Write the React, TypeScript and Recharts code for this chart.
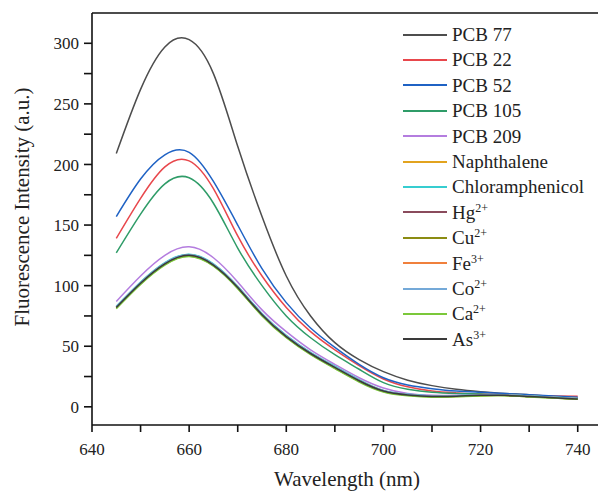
import * as React from "react";
import { LineChart, Line, XAxis, YAxis } from "recharts";

const wavelengths = [645, 650, 655, 660, 665, 670, 675, 680, 685, 690, 695, 700, 705, 710, 715, 720, 725, 730, 735, 740];

const pcb77 = [209, 262, 297, 303, 275, 215, 157, 108, 75, 53, 39, 29, 22, 17.5, 14.5, 12.5, 11, 10, 8.5, 7.5];
const pcb22 = [139, 172, 198, 203, 180, 141, 108, 82, 62, 47, 34, 23, 16.5, 13, 11.5, 10.5, 10, 9.5, 9, 8.8];
const pcb52 = [157, 188, 208, 210, 186, 150, 114, 86, 65, 49, 35, 24, 18, 15, 13, 12, 11, 10, 9, 8];
const pcb105 = [127, 159, 184, 189, 168, 131, 100, 75, 57, 43, 31, 20, 14.5, 12, 11, 10.5, 10, 9, 8, 7];
const pcb209 = [87, 108, 125, 132, 123, 103, 80, 62, 47, 35, 24, 15.5, 11, 9.5, 9.5, 10, 10, 9, 8, 7];
const naphthalene = [82.5, 102.5, 118.5, 125.5, 117.5, 99, 76.5, 58.5, 44.5, 33, 22, 13.3, 10, 8.8, 9, 9.7, 9.7, 8.7, 7.7, 6.7];
const chloramphenicol = [83, 103, 119, 126, 118, 99.5, 77, 59, 45, 33.5, 22.5, 13.6, 10.3, 9, 9.2, 9.9, 9.9, 8.9, 7.9, 6.9];
const hg = [82, 102, 118, 125, 117, 98.5, 76, 58, 44, 32.5, 21.5, 13, 9.8, 8.6, 8.8, 9.5, 9.5, 8.5, 7.5, 6.5];
const cu = [81.5, 101.5, 117.5, 124.5, 116.5, 98, 75.5, 57.5, 43.5, 32, 21, 12.6, 9.5, 8.3, 8.5, 9.2, 9.3, 8.3, 7.3, 6.3];
const fe = [82.2, 102.2, 118.2, 125.3, 117.2, 98.8, 76.2, 58.2, 44.2, 32.7, 21.7, 13.1, 9.9, 8.7, 8.9, 9.6, 9.6, 8.6, 7.6, 6.6];
const co = [82.6, 102.6, 118.6, 125.6, 117.6, 99.1, 76.6, 58.6, 44.6, 33.1, 22.1, 13.4, 10.1, 8.9, 9.1, 9.8, 9.8, 8.8, 7.8, 6.8];
const ca = [81, 101, 117, 124, 116, 97.5, 75, 57, 43, 31.5, 20.5, 12.3, 9.2, 8, 8.3, 9, 9.2, 8.2, 7.2, 6.2];
const as3 = [82, 102, 118, 125, 117, 98.5, 76, 58, 44, 32.5, 21.5, 13, 9.8, 8.6, 8.8, 9.5, 9.5, 8.5, 7.5, 6.5];

const xTicks = [640, 650, 660, 670, 680, 690, 700, 710, 720, 730, 740];
const yTicks = [0, 25, 50, 75, 100, 125, 150, 175, 200, 225, 250, 275, 300];

const series = [
  { key: "pcb77", name: "PCB 77", sup: "", color: "#4d4d4d", values: pcb77 },
  { key: "pcb22", name: "PCB 22", sup: "", color: "#e8474c", values: pcb22 },
  { key: "pcb52", name: "PCB 52", sup: "", color: "#1f62c4", values: pcb52 },
  { key: "pcb105", name: "PCB 105", sup: "", color: "#2f9c68", values: pcb105 },
  { key: "pcb209", name: "PCB 209", sup: "", color: "#b47ddf", values: pcb209 },
  { key: "naph", name: "Naphthalene", sup: "", color: "#e2a31f", values: naphthalene },
  { key: "chlor", name: "Chloramphenicol", sup: "", color: "#36cdd0", values: chloramphenicol },
  { key: "hg", name: "Hg", sup: "2+", color: "#8a4b5c", values: hg },
  { key: "cu", name: "Cu", sup: "2+", color: "#8b8c12", values: cu },
  { key: "fe", name: "Fe", sup: "3+", color: "#f0803c", values: fe },
  { key: "co", name: "Co", sup: "2+", color: "#74a9d8", values: co },
  { key: "ca", name: "Ca", sup: "2+", color: "#7bc83a", values: ca },
  { key: "as", name: "As", sup: "3+", color: "#3a3a3a", values: as3 },
];

const data = wavelengths.map((w, i) => {
  const row: Record<string, number> = { w };
  series.forEach(s => { row[s.key] = s.values[i]; });
  return row;
});

const font = "'Liberation Serif', 'Times New Roman', serif";

function XTick(props: any) {
  const { x, y, payload } = props;
  if (payload.value % 20 !== 0) return <g />;
  return (
    <text x={x} y={y} dy="0.71em" textAnchor="middle" fill="#222" fontSize={17} fontFamily={font}>{payload.value}</text>
  );
}

function YTick(props: any) {
  const { x, y, payload } = props;
  if (payload.value % 50 !== 0) return <g />;
  return (
    <text x={x} y={y} dy="0.355em" textAnchor="end" fill="#222" fontSize={17} fontFamily={font}>{payload.value}</text>
  );
}

export default function App() {
  return (
    <div style={{ position: "absolute", left: 0, top: 0, width: 598, height: 492, overflow: "hidden", background: "#fff", fontFamily: font, color: "#222" }}>
      <LineChart width={620} height={492} data={data} margin={{ top: 12, right: 18, bottom: 66, left: 91 }}>
        <XAxis
          dataKey="w" type="number" domain={[640, 745]} ticks={xTicks} allowDataOverflow
          height={1} tickSize={7} tickMargin={11}
          stroke="#111" strokeWidth={1.6}
          tick={<XTick />}
        />
        <XAxis xAxisId="top" orientation="top" dataKey="w" type="number" domain={[640, 745]} height={1} tick={false} tickLine={false} stroke="#111" strokeWidth={1.6} />
        <YAxis
          type="number" domain={[-15, 325]} ticks={yTicks} allowDataOverflow
          width={1} tickSize={8} tickMargin={5}
          stroke="#111" strokeWidth={1.6}
          tick={<YTick />}
        />
        {series.map(s => (
          <Line key={s.key} type="natural" dataKey={s.key} stroke={s.color} strokeWidth={1.5} dot={false} isAnimationActive={false} />
        ))}
      </LineChart>
      <div style={{ position: "absolute", left: 247, top: 466, width: 200, textAlign: "center", fontSize: 21, lineHeight: "26px", whiteSpace: "nowrap" }}>
        Wavelength (nm)
      </div>
      <div style={{ position: "absolute", left: 22, top: 207, width: 0, height: 0 }}>
        <div style={{ position: "absolute", left: -160, top: -13, width: 320, textAlign: "center", fontSize: 21, lineHeight: "26px", whiteSpace: "nowrap", transform: "rotate(-90deg)" }}>
          Fluorescence Intensity (a.u.)
        </div>
      </div>
      <div style={{ position: "absolute", left: 403, top: 22, fontSize: 19, lineHeight: "25.4px" }}>
        {series.map(s => (
          <div key={s.key} style={{ display: "flex", alignItems: "center", height: 25.4, whiteSpace: "nowrap" }}>
            <span style={{ display: "inline-block", width: 44, height: 2, background: s.color, marginRight: 5 }} />
            <span>
              {s.name}
              {s.sup ? <sup style={{ fontSize: 12, verticalAlign: "top", position: "relative", top: -4 }}>{s.sup}</sup> : null}
            </span>
          </div>
        ))}
      </div>
    </div>
  );
}
